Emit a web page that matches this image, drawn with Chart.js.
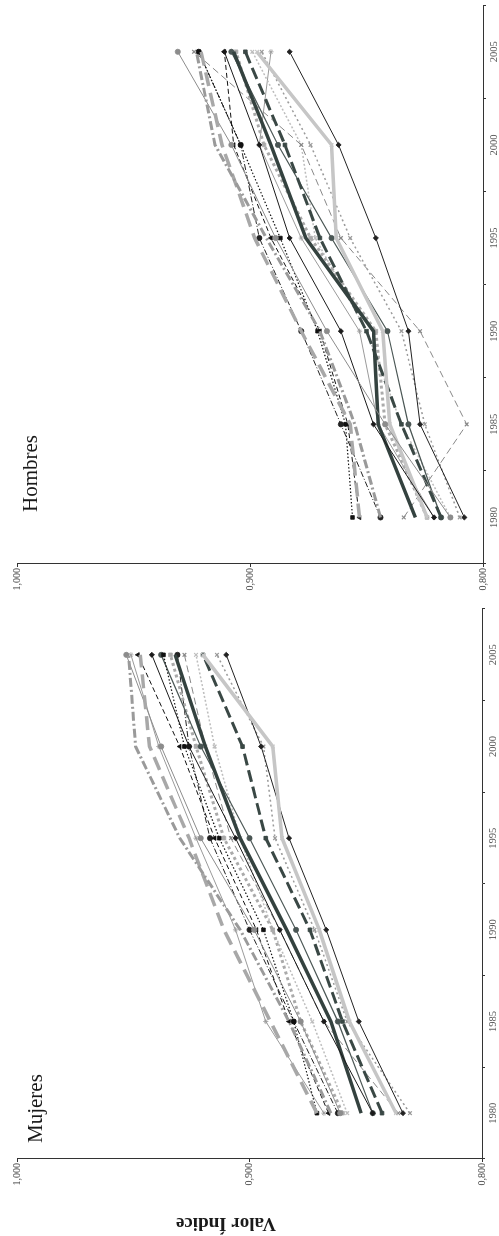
<!DOCTYPE html>
<html>
<head>
<meta charset="utf-8">
<script src="https://cdn.jsdelivr.net/npm/chart.js@4/dist/chart.umd.min.js"></script>
<style>
  html, body { margin: 0; padding: 0; background: #fff; }
  body { width: 499px; height: 1236px; overflow: hidden; position: relative; }
  /* the figure is printed on its side: draw it landscape, then turn it */
  #wrap {
    position: absolute; left: 0; top: 0; width: 1236px; height: 499px;
    transform-origin: 0 0; transform: translate(0, 1236px) rotate(-90deg);
  }
  canvas { position: absolute; top: 0; }
</style>
</head>
<body>
<div id="wrap">
  <canvas id="cM" width="640" height="499" style="left:0"></canvas>
  <canvas id="cH" width="596" height="499" style="left:640px"></canvas>
</div>
<script>
// ── data ───────────────────────────────────────────────
const years = [1980, 1985, 1990, 1995, 2000, 2005];
const valueTicks = [0.8, 0.9, 1.0];

// one row per series, same order in both panels
const mujeres = [
  [0.865, 0.883, 0.904, 0.930, 0.949, 0.952],
  [0.871, 0.891, 0.911, 0.926, 0.943, 0.947],
  [0.861, 0.878, 0.898, 0.921, 0.938, 0.953],
  [0.871, 0.881, 0.894, 0.913, 0.928, 0.937],
  [0.847, 0.868, 0.887, 0.906, 0.926, 0.942],
  [0.852, 0.865, 0.884, 0.904, 0.919, 0.932],
  [0.837, 0.857, 0.870, 0.886, 0.890, 0.920],
  [0.843, 0.860, 0.874, 0.893, 0.903, 0.920],
  [0.834, 0.853, 0.867, 0.883, 0.895, 0.910],
  [0.831, 0.858, 0.872, 0.889, 0.894, 0.914],
  [0.866, 0.883, 0.897, 0.915, 0.930, 0.948],
  [0.847, 0.862, 0.880, 0.900, 0.921, 0.938],
  [0.836, 0.868, 0.887, 0.908, 0.919, 0.928],
  [0.860, 0.878, 0.890, 0.911, 0.923, 0.934],
  [0.862, 0.881, 0.900, 0.917, 0.926, 0.931],
  [0.858, 0.873, 0.890, 0.904, 0.915, 0.923],
  [0.868, 0.893, 0.906, 0.923, 0.939, 0.951]
];

const hombres = [
  [0.844, 0.855, 0.870, 0.893, 0.915, 0.923],
  [0.853, 0.857, 0.878, 0.898, 0.912, 0.921],
  [0.814, 0.842, 0.867, 0.889, 0.908, 0.931],
  [0.856, 0.859, 0.871, 0.887, 0.904, 0.922],
  [0.821, 0.847, 0.861, 0.883, 0.896, 0.911],
  [0.829, 0.845, 0.847, 0.876, 0.891, 0.907],
  [0.824, 0.840, 0.843, 0.863, 0.865, 0.897],
  [0.818, 0.835, 0.850, 0.870, 0.885, 0.902],
  [0.808, 0.827, 0.832, 0.846, 0.862, 0.883],
  [0.810, 0.825, 0.835, 0.857, 0.874, 0.895],
  [0.853, 0.858, 0.870, 0.891, 0.907, 0.911],
  [0.818, 0.832, 0.841, 0.865, 0.888, 0.908],
  [0.834, 0.807, 0.827, 0.861, 0.878, 0.924],
  [0.824, 0.842, 0.846, 0.874, 0.894, 0.906],
  [0.844, 0.861, 0.878, 0.896, 0.904, 0.922],
  [0.814, 0.835, 0.850, 0.872, 0.878, 0.899],
  [0.821, 0.845, 0.853, 0.878, 0.896, 0.891]
];

// ── line look per series (grey-scale print) ────────────
const styles = [
  { c: '#9a9a9a', w: 3,   dash: [9, 3, 2, 3], pt: false },
  { c: '#a8a8a8', w: 3.5, dash: [14, 7],      pt: false },
  { c: '#8c8c8c', w: 1,   dash: [],           pt: 'circle' },
  { c: '#111111', w: 1.2, dash: [1.5, 2],     pt: 'rect' },
  { c: '#1a1a1a', w: 1,   dash: [],           pt: 'rectRot' },
  { c: '#34423f', w: 3.5, dash: [],           pt: false },
  { c: '#c6c6c6', w: 3.5, dash: [],           pt: 'crossRot' },
  { c: '#3a4845', w: 3,   dash: [12, 5],      pt: 'rect' },
  { c: '#222222', w: 1,   dash: [],           pt: 'rectRot' },
  { c: '#9a9a9a', w: 1.5, dash: [2, 3],       pt: 'crossRot' },
  { c: '#111111', w: 1,   dash: [5, 3],       pt: 'triangle' },
  { c: '#4a5654', w: 1.2, dash: [],           pt: 'circle' },
  { c: '#888888', w: 1,   dash: [7, 4],       pt: 'crossRot' },
  { c: '#aaaaaa', w: 3,   dash: [3, 3],       pt: 'rect' },
  { c: '#222222', w: 1,   dash: [6, 2, 1, 2], pt: 'circle' },
  { c: '#bdbdbd', w: 1.5, dash: [2, 2],       pt: 'crossRot' },
  { c: '#9a9a9a', w: 1,   dash: [],           pt: 'star' }
];

const SERIF = '"Liberation Serif", "Times New Roman", serif';

function buildDatasets(rows) {
  return rows.map((vals, i) => {
    const s = styles[i];
    return {
      label: 'Serie ' + (i + 1),
      data: years.map((yr, k) => ({ x: yr, y: vals[k] })),
      borderColor: s.c,
      backgroundColor: s.c,
      borderWidth: s.w,
      borderDash: s.dash,
      tension: 0,
      pointStyle: s.pt || 'circle',
      pointRadius: s.pt ? 2.6 : 0,
      pointBorderWidth: s.pt === 'crossRot' ? 1.2 : 0.8,
      pointBorderColor: s.c,
      pointBackgroundColor: s.c
    };
  });
}

// panel name (and optional axis title) drawn inside the plot
const panelText = {
  id: 'panelText',
  afterDraw(chart, args, opts) {
    const ctx = chart.ctx;
    ctx.save();
    ctx.fillStyle = '#1a1a1a';
    ctx.font = '21px ' + SERIF;
    ctx.textBaseline = 'alphabetic';
    ctx.fillText(opts.text, opts.x, opts.y);
    if (opts.axisTitle) {
      ctx.translate(opts.axisTitle.x, opts.axisTitle.y);
      ctx.rotate(-Math.PI / 2);
      ctx.font = 'bold 19px ' + SERIF;
      ctx.textAlign = 'center';
      ctx.textBaseline = 'middle';
      ctx.fillText(opts.axisTitle.text, 0, 0);
    }
    ctx.restore();
  }
};

function makeChart(id, rows, cfg) {
  return new Chart(document.getElementById(id), {
    type: 'line',
    data: { datasets: buildDatasets(rows) },
    plugins: [panelText],
    options: {
      responsive: false,
      animation: false,
      layout: { padding: { top: 17, right: cfg.padRight, left: 0, bottom: 0 } },
      plugins: {
        legend: { display: false },
        tooltip: { enabled: false },
        panelText: cfg.label
      },
      scales: {
        x: {
          type: 'linear',
          min: 1977.5, max: 2007.5,
          afterBuildTicks: ax => { ax.ticks = years.map(v => ({ value: v })); },
          afterFit: ax => { ax.height = cfg.xHeight; },
          grid: { offset: true, drawOnChartArea: false, tickLength: 3, color: '#333' },
          border: { color: '#333', width: 1 },
          ticks: {
            autoSkip: false, maxRotation: 0, padding: 2,
            color: '#555', font: { family: SERIF, size: 10.5 },
            callback: v => String(v)
          }
        },
        y: {
          min: 0.8, max: 1.0,
          afterBuildTicks: ax => { ax.ticks = valueTicks.map(v => ({ value: v })); },
          afterFit: ax => { ax.width = cfg.yWidth; },
          grid: { drawOnChartArea: false, tickLength: 3, color: '#333' },
          border: { color: '#333', width: 1 },
          ticks: {
            padding: 1, color: '#444', font: { family: SERIF, size: 10 },
            callback: v => v.toFixed(3).replace('.', ',')
          }
        }
      }
    }
  });
}

makeChart('cM', mujeres, {
  padRight: 13, xHeight: 17, yWidth: 77,
  label: { text: 'Mujeres', x: 93, y: 42, axisTitle: { text: 'Valor Índice', x: 13, y: 226 } }
});

makeChart('cH', hombres, {
  padRight: 3, xHeight: 16, yWidth: 32,
  label: { text: 'Hombres', x: 84, y: 37 }
});
</script>
</body>
</html>
